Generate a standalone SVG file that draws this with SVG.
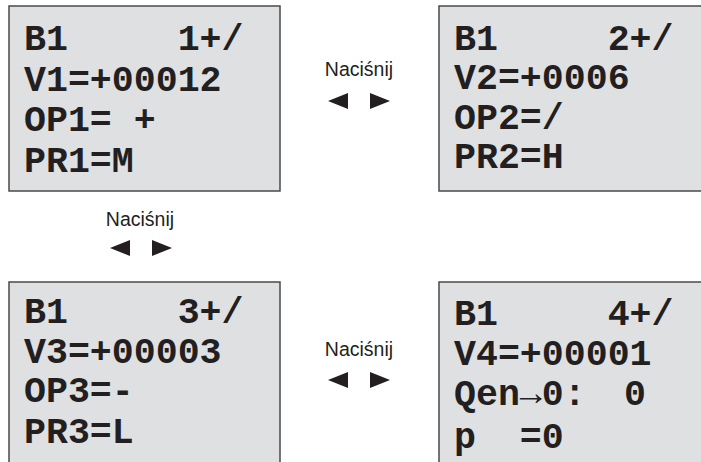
<svg xmlns="http://www.w3.org/2000/svg" width="701" height="462" viewBox="0 0 701 462">
<style>
.box{fill:#dfe0e2;stroke:#4a4a4a;stroke-width:1.5}
.lcd{font-family:"Liberation Mono","Courier New",monospace;font-weight:bold;font-size:36.6px;fill:#231f20}
.lbl{font-family:"Liberation Sans",Arial,sans-serif;font-size:19.5px;fill:#231f20;text-anchor:middle}
.tri{fill:#231f20}
</style>
<rect width="701" height="462" fill="#ffffff"/>
<g id="screen1">
<rect class="box" x="9" y="6" width="271" height="185"/>
<text class="lcd" x="24" y="50" xml:space="preserve">B1     1+/</text>
<text class="lcd" x="24" y="91">V1=+00012</text>
<text class="lcd" x="24" y="131" xml:space="preserve">OP1= +</text>
<text class="lcd" x="24" y="172">PR1=M</text>
</g>
<g id="screen2">
<rect class="box" x="439" y="6" width="270" height="185"/>
<text class="lcd" x="454" y="50" xml:space="preserve">B1     2+/</text>
<text class="lcd" x="454" y="89">V2=+0006</text>
<text class="lcd" x="454" y="129">OP2=/</text>
<text class="lcd" x="454" y="168">PR2=H</text>
</g>
<g id="screen3">
<rect class="box" x="9" y="282" width="271" height="190"/>
<text class="lcd" x="24" y="323" xml:space="preserve">B1     3+/</text>
<text class="lcd" x="24" y="363">V3=+00003</text>
<text class="lcd" x="24" y="402">OP3=-</text>
<text class="lcd" x="24" y="443">PR3=L</text>
</g>
<g id="screen4">
<rect class="box" x="439" y="282" width="270" height="190"/>
<text class="lcd" x="454" y="325" xml:space="preserve">B1     4+/</text>
<text class="lcd" x="454" y="365">V4=+00001</text>
<text class="lcd" x="454" y="405">Qen→0: <tspan x="624">0</tspan></text>
<text class="lcd" x="454" y="448" xml:space="preserve">p  =0</text>
</g>
<g id="connectors">
<g id="press1">
<text class="lbl" x="359" y="76">Naciśnij</text>
<polygon class="tri" points="328,101 348,93 348,109"/>
<polygon class="tri" points="390,101 370,93 370,109"/>
</g>
<g id="press2">
<text class="lbl" x="140" y="226">Naciśnij</text>
<polygon class="tri" points="110,248 130,240 130,256"/>
<polygon class="tri" points="172,248 152,240 152,256"/>
</g>
<g id="press3">
<text class="lbl" x="359" y="356">Naciśnij</text>
<polygon class="tri" points="328,380 348,372 348,388"/>
<polygon class="tri" points="390,380 370,372 370,388"/>
</g>
</g>
</svg>
